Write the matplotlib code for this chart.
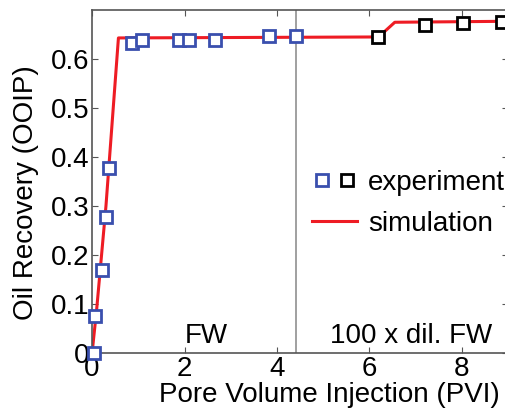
import matplotlib
matplotlib.use('agg')
import matplotlib.pyplot as plt
from matplotlib.legend_handler import HandlerTuple

plt.rcParams['font.family'] = ['Liberation Sans', 'DejaVu Sans']

# experiment, formation water (FW) stage
fw_pvi = [0.05, 0.06, 0.21, 0.30, 0.37, 0.86, 1.08, 1.87, 2.10, 2.66, 3.83, 4.42]
fw_rec = [0.0, 0.075, 0.17, 0.278, 0.378, 0.633, 0.638, 0.638, 0.638, 0.638, 0.647, 0.646]

# experiment, 100 x diluted FW stage
dil_pvi = [6.19, 7.21, 8.03, 8.87]
dil_rec = [0.645, 0.670, 0.673, 0.675]

# simulation
sim_pvi = [0.0, 0.10, 0.30, 0.57, 6.20, 6.55, 9.0]
sim_rec = [0.0, 0.09, 0.30, 0.643, 0.645, 0.675, 0.677]

switch_pvi = 4.42

blue = '#3a4fae'
red = '#ee1c24'
fs = 20

fig = plt.figure(figsize=(5.06, 4.17), dpi=100)
ax = fig.add_axes([0.182, 0.1535, 0.822, 0.8225])

ax.axvline(switch_pvi, color='#999999', lw=1.3, zorder=1)
sim, = ax.plot(sim_pvi, sim_rec, color=red, lw=2.2, zorder=2)
m1, = ax.plot(fw_pvi, fw_rec, 's', ms=8, mfc='white', mec=blue, mew=2, zorder=3, clip_on=False)
m2, = ax.plot(dil_pvi, dil_rec, 's', ms=8, mfc='white', mec='black', mew=2, zorder=3, clip_on=False)

ax.set_xlim(0, 9)
ax.set_ylim(0, 0.7)
ax.set_xticks([0, 2, 4, 6, 8])
ax.set_yticks([0, 0.1, 0.2, 0.3, 0.4, 0.5, 0.6])
ax.set_yticklabels(['0', '0.1', '0.2', '0.3', '0.4', '0.5', '0.6'])
ax.tick_params(direction='in', top=True, right=True, labelsize=fs, length=4,
               color='#555555', pad=2)
for s in ax.spines.values():
    s.set_color('#555555')
    s.set_linewidth(1.2)

ax.set_xlabel('Pore Volume Injection (PVI)', fontsize=fs, labelpad=0)
ax.xaxis.set_label_coords(0.571, -0.085)
ax.set_ylabel('Oil Recovery (OOIP)', fontsize=fs, labelpad=3)
ax.yaxis.set_label_coords(-0.128, 0.468)

ax.text(2.0, 0.008, 'FW', fontsize=fs, ha='left', va='bottom')
ax.text(8.65, 0.008, '100 x dil. FW', fontsize=fs, ha='right', va='bottom')

ax.legend([(m1, m2), sim], ['experiment', 'simulation'],
          handler_map={tuple: HandlerTuple(ndivide=None, pad=0.22)},
          loc='center left', bbox_to_anchor=(0.617, 0.512),
          bbox_transform=fig.transFigure, frameon=False, borderpad=0,
          borderaxespad=0, fontsize=fs, handlelength=1.6, handletextpad=0.4,
          labelspacing=0.53)

fig.savefig('out.png', dpi=100)
